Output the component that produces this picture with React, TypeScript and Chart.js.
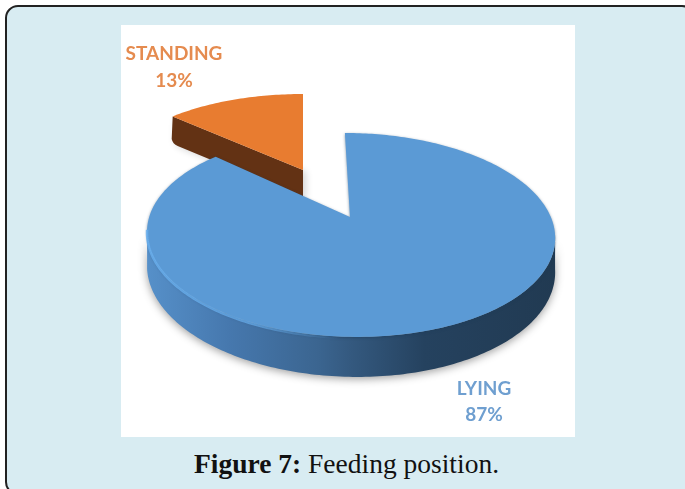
import React, { useEffect, useRef } from "react";
import { Chart, registerables } from "chart.js";

Chart.register(...registerables);

const categories = ["LYING", "STANDING"];
const shares = [87, 13];
const faceColors = ["#5b9ad5", "#e87c30"];
const labelColors = ["#6f9fd0", "#e58b4f"];

// view parameters of the tilted disc, relative to the arc's centre, for a radius of 206
const REF_R = 206;
const views = [
  { cx: 2, cy: -14, rx: 200.8, ry: 98.8, k: 0.176, s: 6, depth: 33 },
  { cx: -45, cy: -61, rx: 191, ry: 83.6, k: 0.1, s: 0, depth: 28 },
];
const labelPlaces = [
  { x: 363, y: 364, gap: 26 },
  { x: 53, y: 29, gap: 27 },
];

type View = (typeof views)[number];

function project(v: View, a: number, ox: number, oy: number, f: number, drop = 0) {
  const uu = Math.cos(a);
  const vv = Math.sin(a);
  const w = 1 - v.k * vv;
  return {
    x: ox + f * (v.cx + (v.rx * uu + v.s * vv) / w),
    y: oy + f * (v.cy + (v.ry * vv) / w + (drop * v.depth) / w),
  };
}

function rimPath(ctx: CanvasRenderingContext2D, v: View, a0: number, a1: number, ox: number, oy: number, f: number, drop = 0, move = true) {
  const n = Math.max(8, Math.ceil((Math.abs(a1 - a0) * 180) / Math.PI));
  for (let i = 0; i <= n; i++) {
    const p = project(v, a0 + ((a1 - a0) * i) / n, ox, oy, f, drop);
    if (i === 0 && move) ctx.moveTo(p.x, p.y);
    else ctx.lineTo(p.x, p.y);
  }
}

const tiltedPie = {
  id: "tiltedPie",
  beforeDatasetsDraw(chart: any) {
    const ctx: CanvasRenderingContext2D = chart.ctx;
    const arcs = chart.getDatasetMeta(0).data;
    const R = arcs[0].outerRadius;
    const f = R / REF_R;
    const ox = arcs[0].x;
    const oy = arcs[0].y;
    const toX = (pageX: number) => ox + f * (pageX - 348);

    // STANDING: the slice pulled out, behind the main body
    {
      const arc = arcs[1];
      const v = views[1];
      const tip = project(v, arc.startAngle, ox, oy, f);
      const tipLow = project(v, arc.startAngle, ox, oy, f, 1.05);
      const apex = { x: ox + f * v.cx, y: oy + f * v.cy };
      ctx.save();
      ctx.shadowColor = "rgba(0,0,0,0.16)";
      ctx.shadowBlur = 7;
      ctx.shadowOffsetX = 3;
      ctx.shadowOffsetY = 2;
      ctx.fillStyle = "#633214";
      ctx.beginPath();
      ctx.moveTo(tip.x, tip.y);
      ctx.lineTo(apex.x, apex.y);
      ctx.lineTo(apex.x, apex.y + f * v.depth);
      ctx.lineTo(tipLow.x + 5, tipLow.y + 2);
      ctx.quadraticCurveTo(tipLow.x, tipLow.y, tipLow.x - 1, tipLow.y - 5);
      ctx.closePath();
      ctx.fill();
      ctx.restore();

      ctx.fillStyle = arc.options.backgroundColor;
      ctx.beginPath();
      ctx.moveTo(apex.x, apex.y);
      rimPath(ctx, v, arc.startAngle, arc.endAngle, ox, oy, f, 0, false);
      ctx.closePath();
      ctx.fill();
    }

    // LYING: rim, then top face
    {
      const arc = arcs[0];
      const v = views[0];
      const a0 = Math.asin(v.k);
      const a1 = Math.PI - a0;
      const side = ctx.createLinearGradient(toX(147), 0, toX(555), 0);
      side.addColorStop(0, "#5690c9");
      side.addColorStop(0.2, "#4678ae");
      side.addColorStop(0.42, "#3b6590");
      side.addColorStop(0.5, "#34597f");
      side.addColorStop(0.68, "#25425f");
      side.addColorStop(1, "#213a52");
      ctx.save();
      ctx.shadowColor = "rgba(0,0,0,0.38)";
      ctx.shadowBlur = 8;
      ctx.shadowOffsetY = 2;
      ctx.fillStyle = side;
      ctx.beginPath();
      rimPath(ctx, v, a0, a1, ox, oy, f);
      rimPath(ctx, v, a1, a0, ox, oy, f, 1, false);
      ctx.closePath();
      ctx.fill();
      ctx.restore();

      ctx.save();
      ctx.shadowColor = "rgba(30,60,90,0.55)";
      ctx.shadowBlur = 3;
      ctx.shadowOffsetY = 1;
      ctx.fillStyle = arc.options.backgroundColor;
      ctx.beginPath();
      ctx.moveTo(ox + f * v.cx, oy + f * v.cy);
      rimPath(ctx, v, arc.startAngle, arc.endAngle, ox, oy, f, 0, false);
      ctx.closePath();
      ctx.fill();
      ctx.restore();

      // the light bevel along the near left edge
      const glow = ctx.createLinearGradient(toX(147), 0, toX(340), 0);
      glow.addColorStop(0, "rgba(105,175,238,0.85)");
      glow.addColorStop(0.55, "rgba(105,175,238,0.7)");
      glow.addColorStop(1, "rgba(105,175,238,0)");
      ctx.strokeStyle = glow;
      ctx.lineWidth = 2.5 * f;
      ctx.beginPath();
      rimPath(ctx, v, a1 + 0.06, Math.PI / 2 + 0.02, ox, oy, f, 0.03);
      ctx.stroke();
    }

    // labels
    const total = shares.reduce((a, b) => a + b, 0);
    ctx.font = "bold 19px Lato, 'Open Sans', sans-serif";
    ctx.textAlign = "center";
    ctx.textBaseline = "middle";
    categories.forEach((name, i) => {
      const place = labelPlaces[i];
      ctx.fillStyle = labelColors[i];
      ctx.fillText(name, place.x, place.y);
      ctx.fillText(`${Math.round((shares[i] / total) * 100)}%`, place.x, place.y + place.gap);
    });
    return false;
  },
};

export default function App() {
  const ref = useRef<HTMLCanvasElement>(null);
  useEffect(() => {
    const chart = new Chart(ref.current!, {
      type: "pie",
      data: {
        labels: categories,
        datasets: [{ data: shares, backgroundColor: faceColors, borderWidth: 0 }],
      },
      options: {
        animation: false,
        responsive: false,
        layout: { padding: 0 },
        plugins: { legend: { display: false }, tooltip: { enabled: false } },
      },
      plugins: [tiltedPie],
    } as any);
    return () => chart.destroy();
  }, []);

  return (
    <div style={{ position: "fixed", left: 0, top: 0, width: 685, height: 489, overflow: "hidden", background: "#fff" }}>
      <div
        style={{
          position: "absolute",
          left: 5,
          top: 5,
          width: 690,
          height: 490,
          boxSizing: "border-box",
          background: "#d8ecf2",
          border: "2px solid #222",
          borderRadius: 13,
        }}
      />
      <div style={{ position: "absolute", left: 121, top: 25, width: 454, height: 412, background: "#fff" }}>
        <canvas ref={ref} width={454} height={412} style={{ display: "block" }} />
      </div>
      <div
        style={{
          position: "absolute",
          left: 0,
          width: 693,
          top: 448,
          textAlign: "center",
          font: "27.5px 'Liberation Serif', serif",
          color: "#111",
          whiteSpace: "nowrap",
        }}
      >
        <b>Figure 7:</b> Feeding position.
      </div>
    </div>
  );
}
